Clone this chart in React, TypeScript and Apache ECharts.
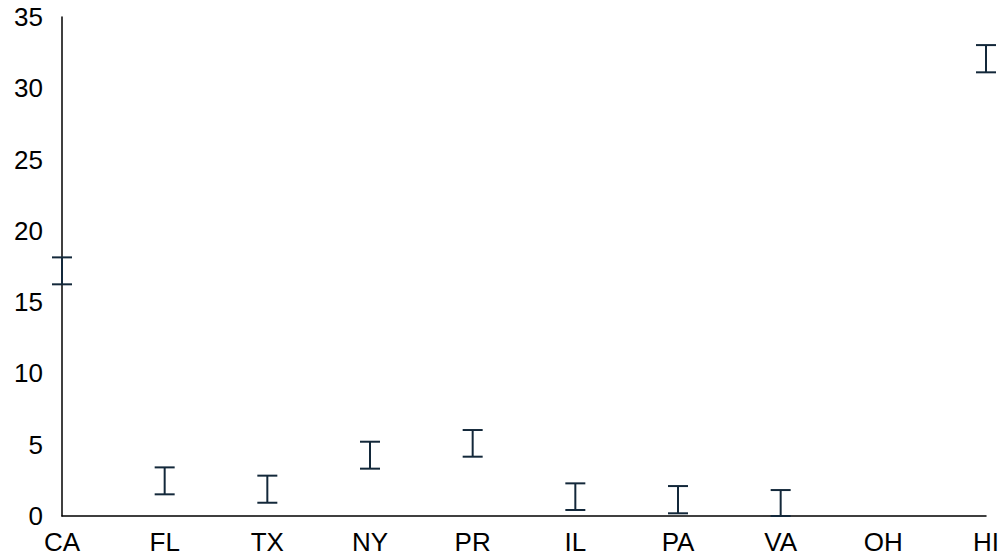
import React, { useEffect, useRef } from "react";
import * as echarts from "echarts";

const categories = ["CA", "FL", "TX", "NY", "PR", "IL", "PA", "VA", "OH", "HI"];
const lowValues: (number | null)[] = [16.25, 1.52, 0.93, 3.32, 4.16, 0.42, 0.19, 0.0, null, 31.12];
const highValues: (number | null)[] = [18.14, 3.41, 2.83, 5.21, 6.03, 2.29, 2.1, 1.82, null, 33.03];
const yTicks = { min: 0, max: 35, interval: 5 };

export default function App() {
  const ref = useRef<HTMLDivElement>(null);
  useEffect(() => {
    if (!ref.current) return;
    const chart = echarts.init(ref.current, undefined, { renderer: "svg" });
    const data = categories
      .map((c, i) => [i, lowValues[i], highValues[i]])
      .filter((d) => d[1] !== null && d[2] !== null);
    const color = "#13283a";
    chart.setOption({
      animation: false,
      grid: { left: 62, right: 16, top: 17, bottom: 40, containLabel: false },
      xAxis: {
        type: "category",
        data: categories,
        boundaryGap: false,
        axisLine: { show: true, onZero: false, lineStyle: { color: "#000", width: 1.5 } },
        axisTick: { show: false },
        axisLabel: {
          color: "#000",
          fontSize: 26,
          fontFamily: "Liberation Sans",
          margin: 13,
          interval: 0,
        },
        splitLine: { show: false },
      },
      yAxis: {
        type: "value",
        min: yTicks.min,
        max: yTicks.max,
        interval: yTicks.interval,
        axisLine: { show: true, lineStyle: { color: "#000", width: 1.5 } },
        axisTick: { show: false },
        splitLine: { show: false },
        axisLabel: {
          color: "#000",
          fontSize: 26,
          fontFamily: "Liberation Sans",
          margin: 19,
        },
      },
      series: [
        {
          type: "custom",
          data,
          renderItem: (params: any, api: any) => {
            const x = api.value(0);
            const lo = api.coord([x, api.value(1)]);
            const hi = api.coord([x, api.value(2)]);
            const hw = 10;
            const style = { stroke: color, lineWidth: 2, fill: "none" };
            return {
              type: "group",
              children: [
                { type: "line", shape: { x1: lo[0], y1: lo[1], x2: hi[0], y2: hi[1] }, style },
                { type: "line", shape: { x1: hi[0] - hw, y1: hi[1], x2: hi[0] + hw, y2: hi[1] }, style },
                { type: "line", shape: { x1: lo[0] - hw, y1: lo[1], x2: lo[0] + hw, y2: lo[1] }, style },
              ],
            };
          },
        },
      ],
    });
    return () => chart.dispose();
  }, []);
  return <div ref={ref} style={{ width: 1002, height: 556, position: "absolute", left: 0, top: 0 }} />;
}
